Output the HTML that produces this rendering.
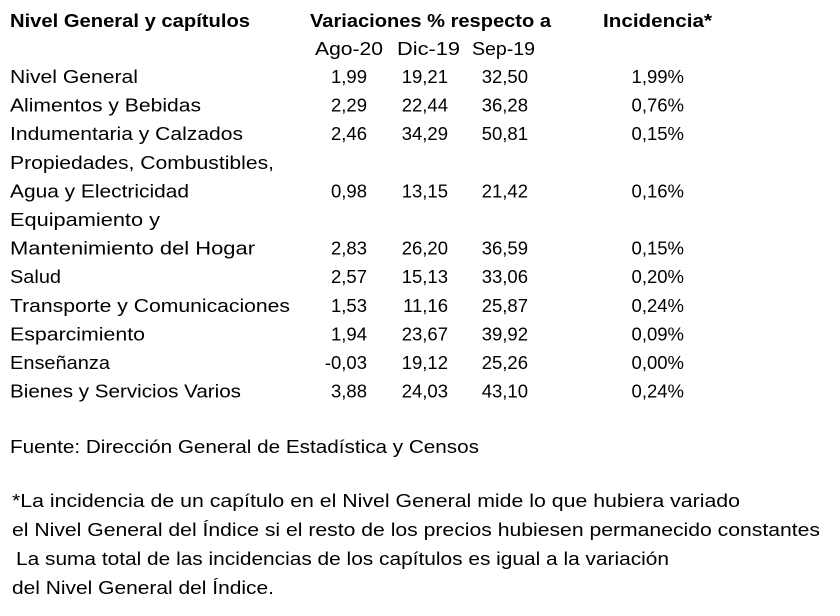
<!DOCTYPE html>
<html><head><meta charset="utf-8"><style>
html,body{margin:0;padding:0;background:#fff;}
svg{display:block;}
text{font-family:"Liberation Sans",sans-serif;font-size:18.5px;fill:#000;}
.b{font-weight:bold;}
</style></head><body>
<svg width="840" height="616">
<g>
<text class="b" x="10" y="27" textLength="240" lengthAdjust="spacingAndGlyphs">Nivel General y capítulos</text>
<text class="b" x="310" y="27" textLength="241" lengthAdjust="spacingAndGlyphs">Variaciones % respecto a</text>
<text class="b" x="603" y="27" textLength="109" lengthAdjust="spacingAndGlyphs">Incidencia*</text>
<text x="315" y="55" textLength="68" lengthAdjust="spacingAndGlyphs">Ago-20</text>
<text x="397" y="55" textLength="63" lengthAdjust="spacingAndGlyphs">Dic-19</text>
<text x="472" y="55" textLength="63" lengthAdjust="spacingAndGlyphs">Sep-19</text>
</g>
<g id="rows"></g>
<text x="10" y="453" textLength="469" lengthAdjust="spacingAndGlyphs">Fuente: Dirección General de Estadística y Censos</text>
<text x="12" y="507" textLength="728" lengthAdjust="spacingAndGlyphs">*La incidencia de un capítulo en el Nivel General mide lo que hubiera variado</text>
<text x="12" y="536" textLength="808" lengthAdjust="spacingAndGlyphs">el Nivel General del Índice si el resto de los precios hubiesen permanecido constantes</text>
<text x="16" y="565" textLength="653" lengthAdjust="spacingAndGlyphs">La suma total de las incidencias de los capítulos es igual a la variación</text>
<text x="12" y="594" textLength="262" lengthAdjust="spacingAndGlyphs">del Nivel General del Índice.</text>
</svg>
<script>
const labels=[["Nivel General",128],["Alimentos y Bebidas",191],["Indumentaria y Calzados",233],["Propiedades, Combustibles,",264],["Agua y Electricidad",179],["Equipamiento y",150],["Mantenimiento del Hogar",245],["Salud",51],["Transporte y Comunicaciones",280],["Esparcimiento",135],["Enseñanza",100],["Bienes y Servicios Varios",231]];
const ago20=["1,99","2,29","2,46","","0,98","","2,83","2,57","1,53","1,94","-0,03","3,88"];
const dic19=["19,21","22,44","34,29","","13,15","","26,20","15,13","11,16","23,67","19,12","24,03"];
const sep19=["32,50","36,28","50,81","","21,42","","36,59","33,06","25,87","39,92","25,26","43,10"];
const incid=["1,99%","0,76%","0,15%","","0,16%","","0,15%","0,20%","0,24%","0,09%","0,00%","0,24%"];
const g=document.getElementById('rows');
const NS="http://www.w3.org/2000/svg";
function t(x,y,s,anchor,len){
  const e=document.createElementNS(NS,'text');
  e.setAttribute('x',x);e.setAttribute('y',y);
  if(anchor)e.setAttribute('text-anchor',anchor);
  if(len){e.setAttribute('textLength',len);e.setAttribute('lengthAdjust','spacingAndGlyphs');}
  e.textContent=s;g.appendChild(e);return e;
}
labels.forEach((l,i)=>{
  const y=83+i*28.6;
  const a=t(10,y,l[0],null,l[1]);
  
  
  [[ago20,367,'value-ago20'],[dic19,448,'value-dic19'],[sep19,528,'value-sep19'],[incid,684,'value-incidence']].forEach(c=>{
    if(c[0][i]){
      const e=t(c[1],y,c[0][i],'end');
      
      
    }
  });
});
</script>
</body></html>
